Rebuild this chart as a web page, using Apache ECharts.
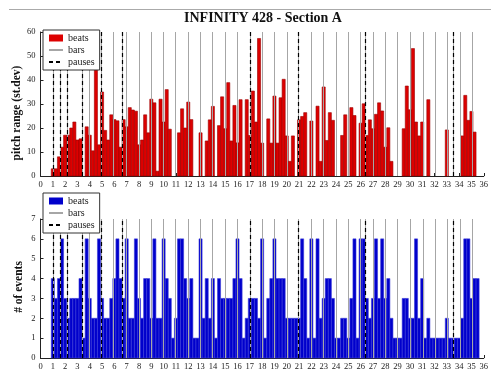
<!DOCTYPE html>
<html>
<head>
<meta charset="utf-8">
<title>INFINITY 428 - Section A</title>
<script src="https://cdn.jsdelivr.net/npm/echarts@6/dist/echarts.min.js"></script>
<style>
html, body { margin: 0; padding: 0; background: #fff; }
#main { width: 491px; height: 371px; }
</style>
</head>
<body>
<div id="main"></div>
<script>
// pitch range (st.dev) per bar, four beats each; null = no value
var pitchRange = [
  [3, 3, 8, 12],        // 1
  [17, 17, 20, 22.5],
  [15, 15.5, null, 20.5],
  [17, 10.5, 46, 13],
  [35, 19, 15, 25.5],   // 5
  [23.5, 23, 12, 23.5],
  [20.5, 28.5, 27.5, 27],
  [13, 15, 25.5, 18],
  [32, 30.5, 2, 32],
  [22.5, 36, 19.5, null], // 10
  [null, 18, 28, 20],
  [30.8, 23.5, null, null],
  [18, null, 14.6, 23.4],
  [29, null, 21, 33],
  [19.7, 38.9, 14.6, 29.4], // 15
  [13.8, 31.8, null, 31.8],
  [16.9, 35.4, 22.5, 57.3],
  [13.7, null, 23.8, 13.7],
  [33.3, 13.7, 32.6, 40.3],
  [16.7, 6.1, 16.7, null], // 20
  [23.4, 24.8, 26.4, null],
  [22.9, null, 29.1, 6.1],
  [37.1, 14.8, 26.4, 23.2],
  [null, null, 16.9, 25.5],
  [null, 28.5, 25.2, null], // 25
  [22, 30.1, 16.9, 23.4],
  [19.7, 25.7, 30.5, 27.1],
  [12, 20.1, 6.1, null],
  [null, null, 19.7, 37.5],
  [27.6, 53.1, 22.5, 16.7], // 30
  [22.5, null, 31.8, null],
  [null, null, null, null],
  [19.2, null, null, null],
  [null, 16.7, 33.6, 23.2],
  [26.9, 18.3, null, null]  // 35
];

// number of events per beat
var eventCount = [
  [4, 3, 4, 6],   // 1
  [3, 2, 3, 3],
  [3, 4, 1, 6],
  [3, 2, 2, 6],
  [3, 2, 2, 3],   // 5
  [4, 6, 4, 3],
  [6, 2, 2, 6],
  [3, 2, 4, 4],
  [2, 6, 2, 2],
  [6, 4, 3, 1],   // 10
  [2, 6, 6, 4],
  [3, 4, 1, 1],
  [6, 2, 4, 2],
  [4, 1, 4, 3],
  [3, 3, 3, 4],   // 15
  [6, 4, 1, 2],
  [3, 3, 3, 2],
  [6, 1, 3, 4],
  [6, 4, 4, 4],
  [2, 2, 2, 2],   // 20
  [2, 6, 4, 1],
  [6, 1, 6, 2],
  [3, 4, 4, 3],
  [1, 1, 2, 2],
  [1, 3, 6, 1],   // 25
  [6, 6, 3, 2],
  [3, 6, 3, 6],
  [3, 4, 2, 1],
  [1, 1, 3, 3],
  [2, 2, 6, 2],   // 30
  [4, 1, 2, 1],
  [1, 1, 1, 1],
  [2, 1, 1, 1],
  [1, 2, 6, 6],
  [3, 4, 4, null] // 35
];

// bar lines and pauses (time positions)
var barLines = [1.0, 1.62, 2.21, 3.4, 3.97, 4.94, 5.94, 6.62, 6.98, 7.98, 8.98, 9.98,
  10.98, 12.0, 12.98, 13.98, 14.98, 16.0, 17.02, 18.0, 18.98, 20.0, 20.92, 21.97,
  23.0, 24.0, 25.03, 26.0, 26.4, 27.0, 28.0, 29.0, 30.03, 31.05, 32.05, 33.07,
  33.53, 34.1, 35.03];
var pauseLines = [1.0, 1.62, 2.21, 3.4, 4.94, 6.62, 17.02, 20.92, 26.4, 33.53];

var titleText = 'INFINITY 428 - Section A';
var legendNames = ['beats', 'bars', 'pauses'];

var SERIF = "'Liberation Serif', 'DejaVu Serif', serif";

// each beat: [start, end, value], a quarter of a bar wide
function beatsOf(rows) {
  var out = [];
  rows.forEach(function (row, i) {
    row.forEach(function (v, k) {
      if (v == null) return;
      var t = (i + 1) + k * 0.25;
      out.push([t - 0.125, t + 0.125, v]);
    });
  });
  return out;
}

function beatRenderer(fill, stroke) {
  return function (params, api) {
    var p0 = api.coord([api.value(0), api.value(2)]);
    var p1 = api.coord([api.value(1), 0]);
    return {
      type: 'rect',
      shape: { x: p0[0], y: p0[1], width: p1[0] - p0[0], height: p1[1] - p0[1] },
      style: { fill: fill, stroke: stroke, lineWidth: 0.6 }
    };
  };
}

function vLines(list) {
  return list.map(function (x) { return { xAxis: x }; });
}

var axisLabelStyle = { fontFamily: SERIF, fontSize: 8.5, color: '#222' };

function xAxisOf(idx) {
  return {
    type: 'value', gridIndex: idx, min: 0, max: 36, interval: 1,
    axisLine: { lineStyle: { color: '#222', width: 1 } },
    axisTick: { inside: true, length: 3, lineStyle: { color: '#222' } },
    axisLabel: Object.assign({ margin: 4 }, axisLabelStyle),
    splitLine: { show: false }
  };
}

function legendOf(top, color) {
  return {
    orient: 'vertical', left: 43, top: top,
    backgroundColor: '#fff', borderColor: '#333', borderWidth: 1,
    padding: [3, 5, 3, 5], itemWidth: 14, itemHeight: 7, itemGap: 2,
    selectedMode: false, z: 20,
    textStyle: { fontFamily: SERIF, fontSize: 10, color: '#222' },
    data: [
      { name: legendNames[0], icon: 'rect', itemStyle: { color: color } },
      { name: legendNames[1], itemStyle: { opacity: 0 } },
      { name: legendNames[2], itemStyle: { opacity: 0 } }
    ]
  };
}

function lineSeries(name, idx, lines, style, z) {
  return {
    name: name, type: 'line', xAxisIndex: idx, yAxisIndex: idx,
    data: [], symbol: 'none', z: z,
    lineStyle: style, itemStyle: { color: style.color },
    markLine: {
      silent: true, symbol: 'none', animation: false,
      label: { show: false },
      lineStyle: style,
      data: vLines(lines)
    }
  };
}

var grayStyle = { color: '#a6a6a6', width: 1, type: 'solid' };
var pauseStyle = { color: '#000', width: 1.2, type: [4, 3] };

var myChart = echarts.init(document.getElementById('main'), null, { renderer: 'canvas' });

var option = {
  animation: false,
  backgroundColor: '#fff',
  graphic: [
    { type: 'line', shape: { x1: 9, y1: 9.5, x2: 491, y2: 9.5 }, style: { stroke: '#aaa', lineWidth: 1 } },
    { type: 'text', x: 263, y: 18, style: { text: titleText, align: 'center', verticalAlign: 'middle',
        font: 'bold 14px ' + SERIF, fill: '#111' } },
    { type: 'text', x: 17, y: 113, rotation: Math.PI / 2,
      style: { text: 'pitch range (st.dev)', align: 'center', verticalAlign: 'middle',
        font: 'bold 11.5px ' + SERIF, fill: '#111' } },
    { type: 'text', x: 19, y: 287, rotation: Math.PI / 2,
      style: { text: '# of events', align: 'center', verticalAlign: 'middle',
        font: 'bold 11.5px ' + SERIF, fill: '#111' } }
  ],
  legend: [legendOf(30, '#dd0000'), legendOf(193, '#0000cc')],
  grid: [
    { left: 40.5, right: 5, top: 32, bottom: 195 },
    { left: 40.5, right: 3, top: 219, bottom: 11 }
  ],
  xAxis: [xAxisOf(0), xAxisOf(1)],
  yAxis: [
    {
      type: 'value', gridIndex: 0, min: 0, max: 60, interval: 10,
      axisLine: { show: true, lineStyle: { color: '#222' } },
      axisTick: { show: true, inside: true, length: 3, lineStyle: { color: '#222' } },
      axisLabel: Object.assign({ margin: 5 }, axisLabelStyle),
      splitLine: { show: false }
    },
    {
      type: 'value', gridIndex: 1, min: 0, max: 7, interval: 1,
      axisLine: { show: true, lineStyle: { color: '#222' } },
      axisTick: { show: true, inside: true, length: 3, lineStyle: { color: '#222' } },
      axisLabel: Object.assign({ margin: 5 }, axisLabelStyle),
      splitLine: { show: false }
    }
  ],
  series: [
    {
      name: 'beats', type: 'custom', xAxisIndex: 0, yAxisIndex: 0, z: 2,
      encode: { x: [0, 1], y: 2 },
      itemStyle: { color: '#dd0000' },
      renderItem: beatRenderer('#dd0000', '#9a0000'),
      data: beatsOf(pitchRange)
    },
    {
      name: 'beats', type: 'custom', xAxisIndex: 1, yAxisIndex: 1, z: 2,
      encode: { x: [0, 1], y: 2 },
      itemStyle: { color: '#0000cc' },
      renderItem: beatRenderer('#0000cc', '#3a3ad8'),
      data: beatsOf(eventCount)
    },
    lineSeries('bars', 0, barLines, grayStyle, 3),
    lineSeries('bars', 1, barLines, grayStyle, 3),
    lineSeries('pauses', 0, pauseLines, pauseStyle, 4),
    lineSeries('pauses', 1, pauseLines, pauseStyle, 4)
  ]
};
myChart.setOption(option);
</script>
</body>
</html>
